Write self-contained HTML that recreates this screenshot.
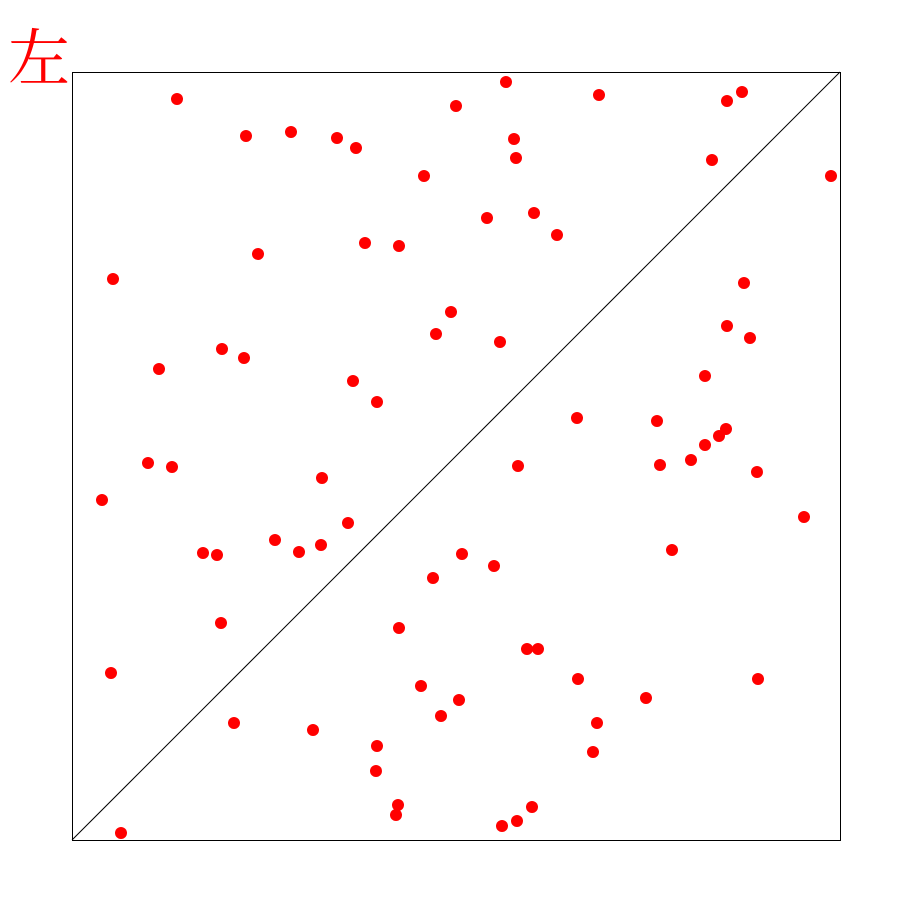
<!DOCTYPE html>
<html>
<head>
<meta charset="utf-8">
<style>
  html, body { margin: 0; padding: 0; background: #fff; }
  #chart { display: block; }
</style>
</head>
<body>
<svg id="chart" width="914" height="914" viewBox="0 0 914 914" xmlns="http://www.w3.org/2000/svg">
  <text x="8" y="80" fill="#ff0000" font-size="62" font-family="'Noto Serif CJK SC', 'Liberation Serif', serif">左</text>
  <rect x="72.5" y="72.5" width="768" height="768" fill="none" stroke="#000" stroke-width="1"/>
  <g id="points"></g>
  <line id="diag" stroke="#000" stroke-width="1"/>
</svg>
<script>
const xs = [105,434,527,670,655,384,174,219,265,284,442,444,640,759,352,415,462,485,293,327,186,41,672,379,364,428,655,678,150,172,87,633,281,305,505,585,654,647,633,619,588,76,100,446,685,250,30,732,276,203,249,227,131,145,600,390,422,361,149,327,455,466,39,506,686,349,574,387,369,162,525,241,305,521,304,326,460,324,445,430,49];
const ys = [741,758,745,748,739,734,704,708,702,692,701,682,680,664,664,622,627,605,597,594,586,561,557,528,506,498,514,502,491,482,471,464,459,438,422,419,411,404,395,380,375,377,373,374,368,362,340,323,317,300,295,288,287,285,290,286,274,262,217,212,191,191,167,161,161,154,142,140,124,117,117,110,94,88,69,35,33,25,19,14,7];
const domain = [0, 768];

const plotLeft = 72, plotTop = 72, plotSize = 768;
function xScale(v) { return plotLeft + (v - domain[0]) / (domain[1] - domain[0]) * plotSize; }
function yScale(v) { return plotTop + plotSize - (v - domain[0]) / (domain[1] - domain[0]) * plotSize; }

const NS = "http://www.w3.org/2000/svg";
const g = document.getElementById("points");
for (let i = 0; i < xs.length; i++) {
  const c = document.createElementNS(NS, "circle");
  c.setAttribute("cx", xScale(xs[i]));
  c.setAttribute("cy", yScale(ys[i]));
  c.setAttribute("r", 6);
  c.setAttribute("fill", "#ff0000");
  
  
  g.appendChild(c);
}
const d = document.getElementById("diag");
d.setAttribute("x1", xScale(domain[0]));
d.setAttribute("y1", yScale(domain[0]));
d.setAttribute("x2", xScale(domain[1]));
d.setAttribute("y2", yScale(domain[1]));
</script>
</body>
</html>
